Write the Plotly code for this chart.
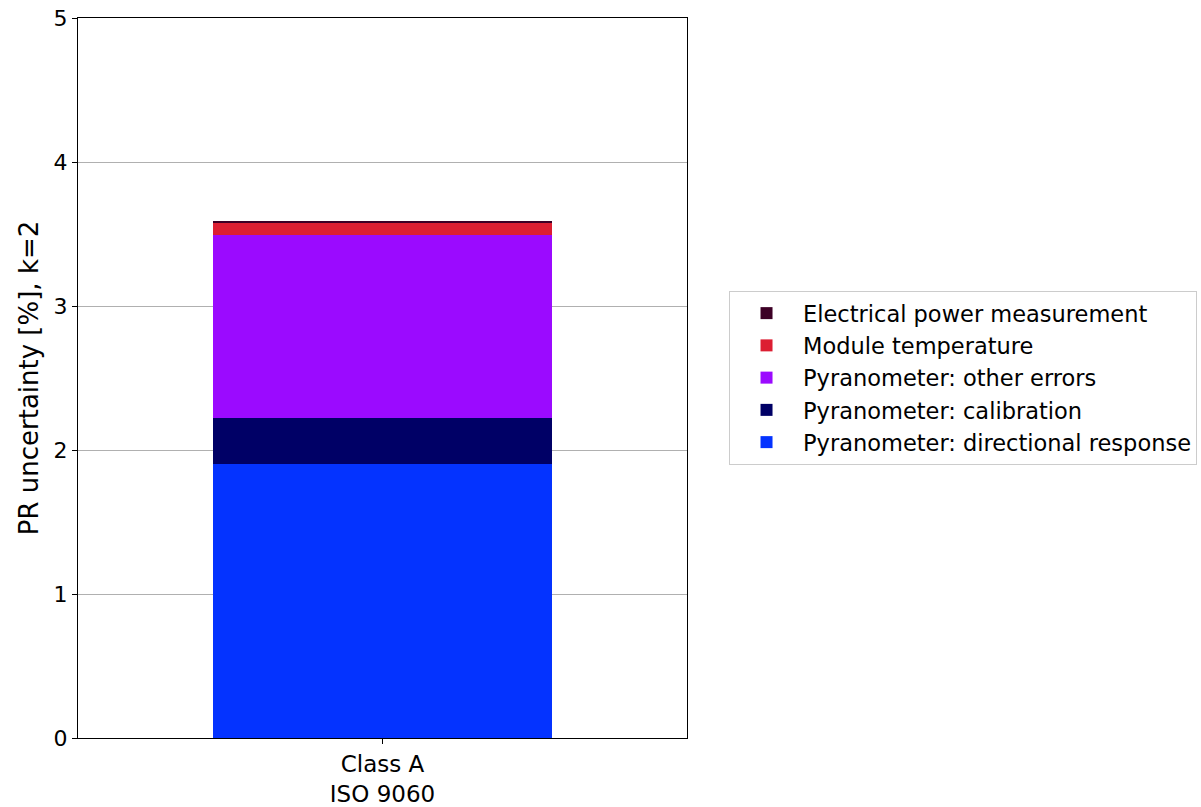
import plotly.graph_objects as go

# Uncertainty budget for the performance ratio (k=2), stacked by contribution
categories = ["Class A<br>ISO 9060"]
components = [
    "Pyranometer: directional response",
    "Pyranometer: calibration",
    "Pyranometer: other errors",
    "Module temperature",
    "Electrical power measurement",
]
values = [
    [1.90],
    [0.32],
    [1.27],
    [0.09],
    [0.01],
]
colors = ["#0433ff", "#000066", "#9b0aff", "#dc1e32", "#3d0026"]

FONT = "DejaVu Sans"

fig = go.Figure()
for name, vals, col in zip(components, values, colors):
    fig.add_trace(go.Bar(
        x=[0],
        y=vals,
        name=name,
        width=0.8,
        marker=dict(color=col, line=dict(width=0)),
    ))

fig.update_layout(
    barmode="stack",
    width=1201,
    height=807,
    paper_bgcolor="white",
    plot_bgcolor="white",
    font=dict(family=FONT, size=22, color="black"),
    margin=dict(l=78, r=514, t=18, b=69, autoexpand=False),
    bargap=0,
    legend=dict(
        traceorder="reversed",
        x=1.069,
        xanchor="left",
        y=0.5,
        yanchor="middle",
        bordercolor="#cccccc",
        borderwidth=1,
        bgcolor="white",
        itemwidth=63,
        font=dict(family=FONT, size=22.5),
    ),
    showlegend=True,
)

fig.update_xaxes(
    range=[-0.72, 0.72],
    tickvals=[0],
    ticktext=categories,
    tickfont=dict(size=23),
    ticklabelstandoff=0,
    ticks="outside",
    ticklen=5,
    tickcolor="black",
    showgrid=False,
    showline=True,
    linecolor="black",
    linewidth=1.3,
    mirror=True,
    zeroline=False,
    automargin=False,
)
fig.update_yaxes(
    range=[0, 5],
    tickvals=[0, 1, 2, 3, 4, 5],
    ticks="outside",
    ticklen=5,
    tickcolor="black",
    showgrid=True,
    gridcolor="#b0b0b0",
    gridwidth=1,
    showline=True,
    linecolor="black",
    linewidth=1.3,
    mirror=True,
    zeroline=False,
    automargin=False,
    title=dict(text="PR uncertainty [%], k=2", standoff=7),
)

fig.write_html("out.html")
